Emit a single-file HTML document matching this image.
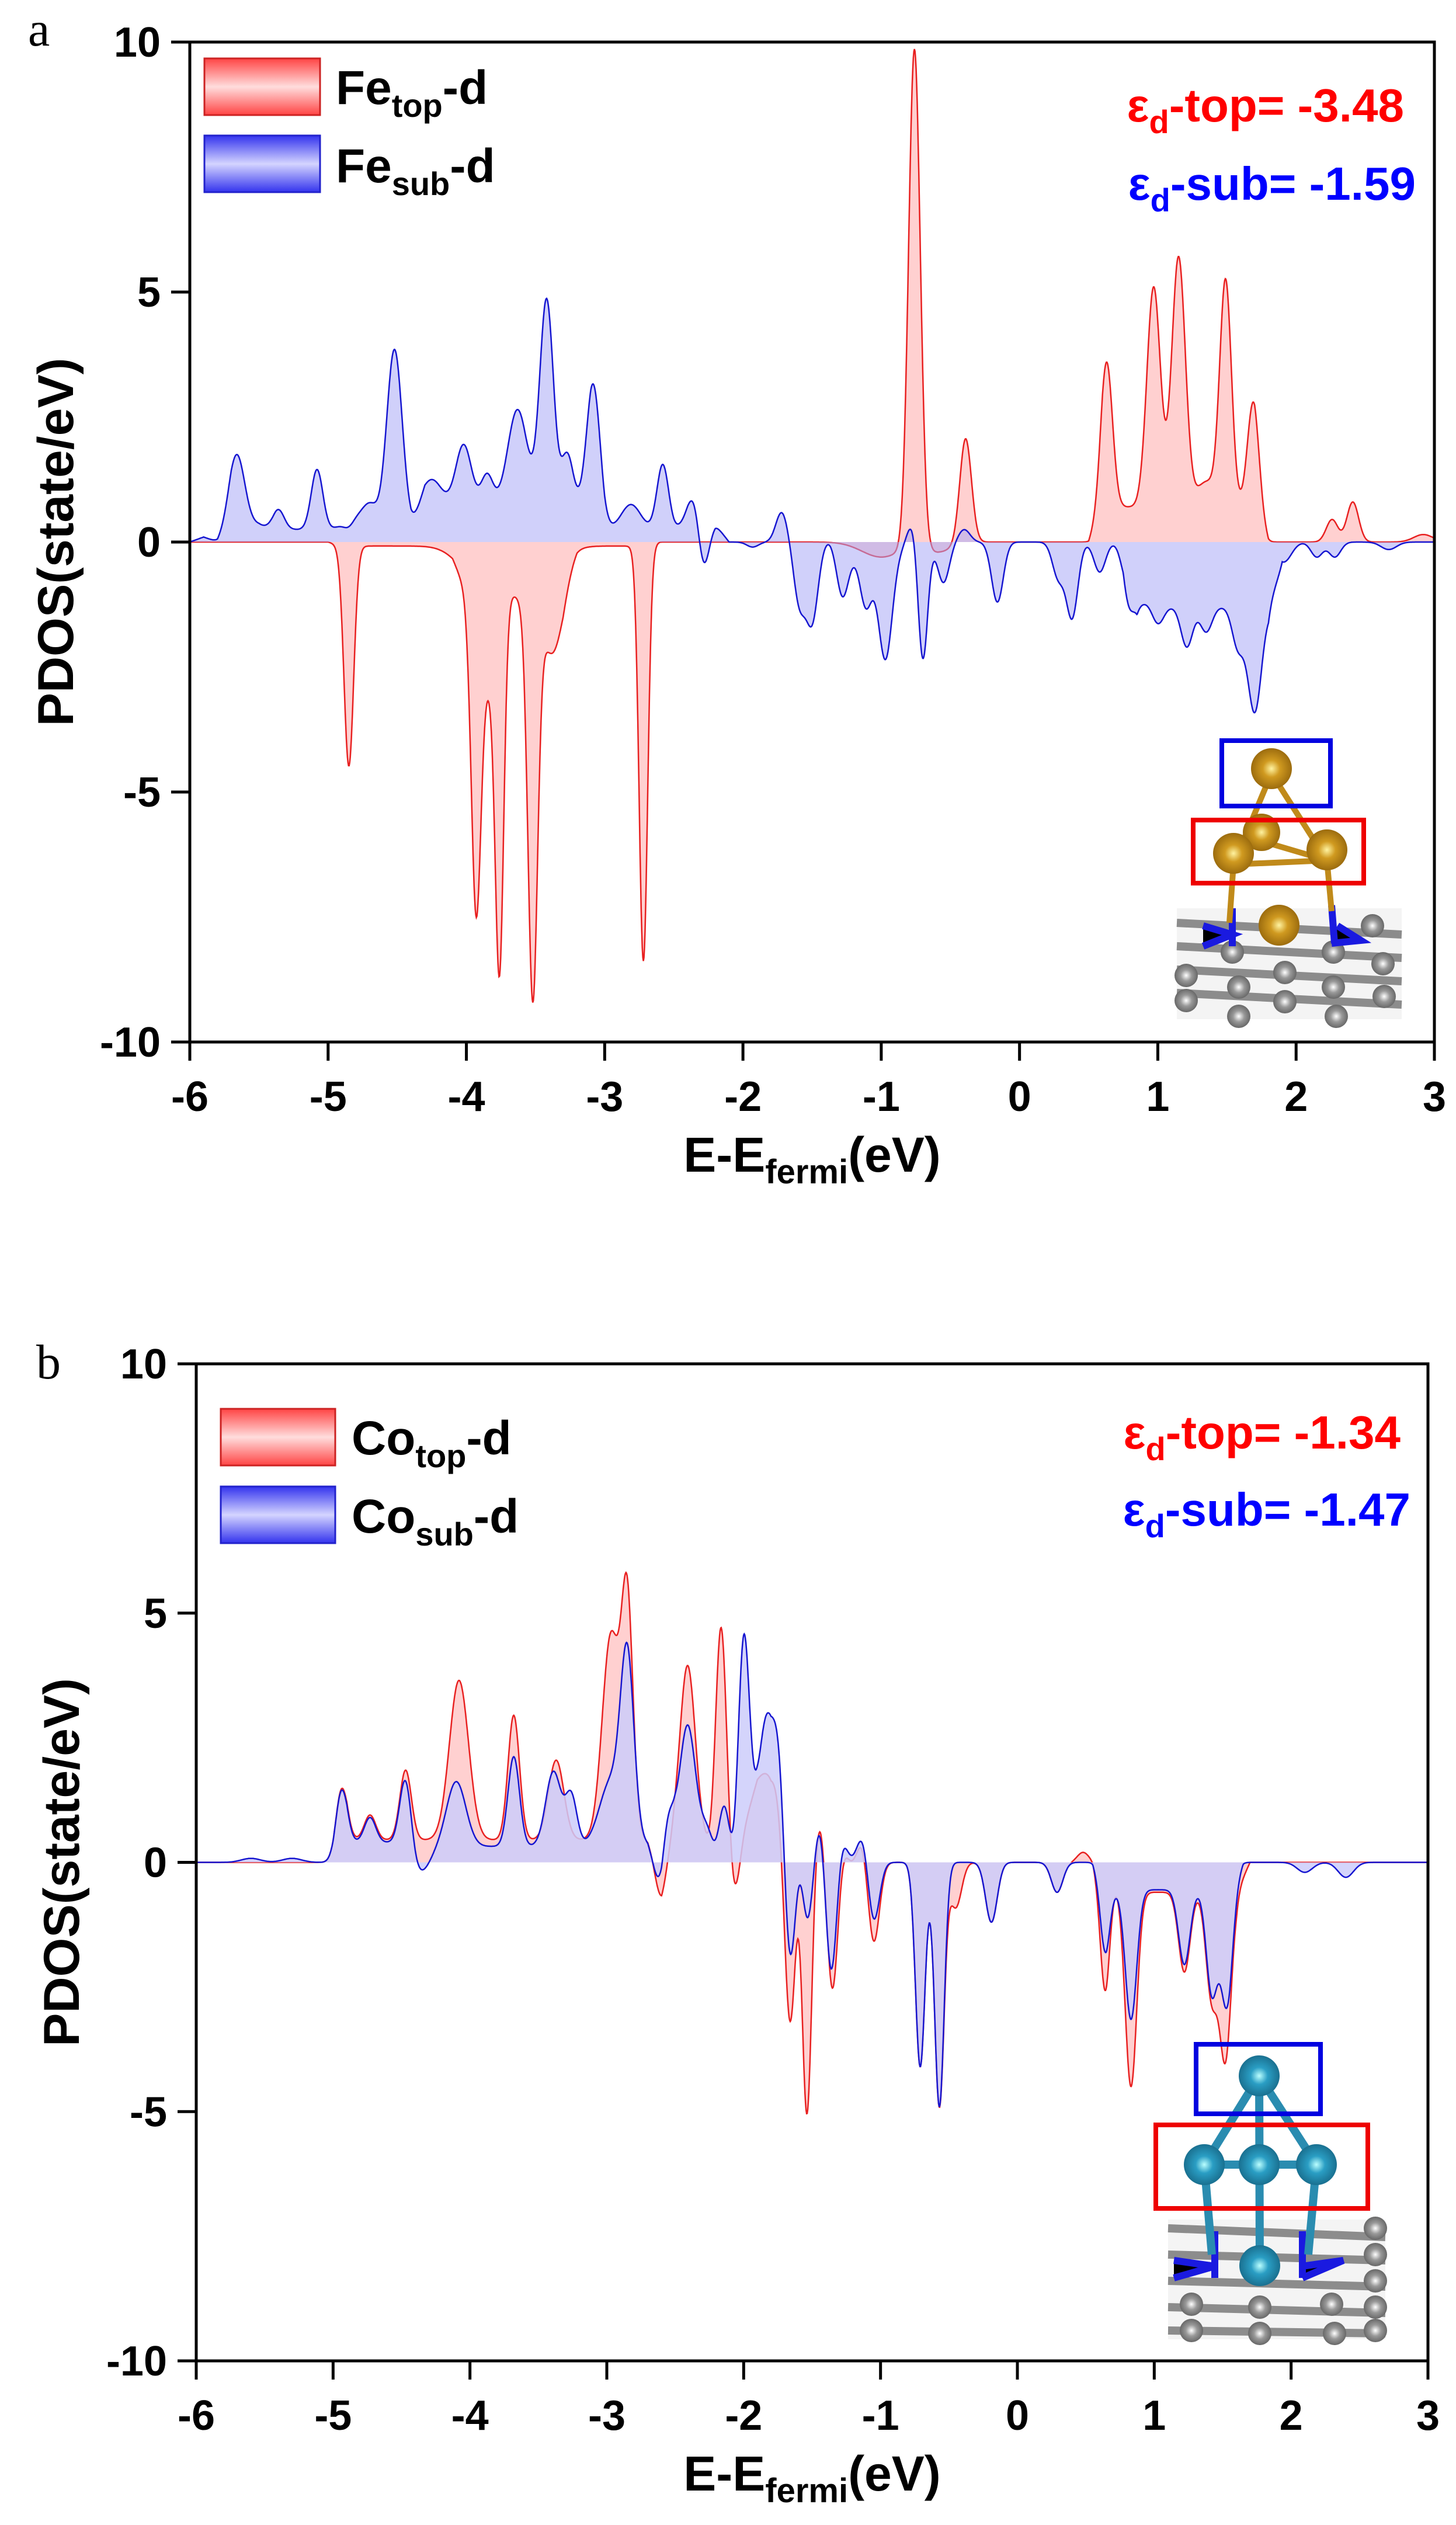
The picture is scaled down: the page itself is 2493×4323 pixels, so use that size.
<!DOCTYPE html>
<html><head><meta charset="utf-8">
<style>
html,body{margin:0;padding:0;background:#fff;}
svg{display:block;}
text{font-family:"Liberation Sans",Arial,sans-serif;font-weight:bold;}
</style></head>
<body>
<svg id="s" width="2493" height="4323" viewBox="0 0 2493 4323" xmlns="http://www.w3.org/2000/svg">
<defs>
<linearGradient id="lr" x1="0" y1="0" x2="0" y2="1"><stop offset="0" stop-color="#f44"/><stop offset="0.5" stop-color="#fdd"/><stop offset="1" stop-color="#f44"/></linearGradient>
<linearGradient id="lb" x1="0" y1="0" x2="0" y2="1"><stop offset="0" stop-color="#33e"/><stop offset="0.5" stop-color="#d4d4ff"/><stop offset="1" stop-color="#33e"/></linearGradient>
<radialGradient id="gold" cx="0.5" cy="0.5" r="0.6"><stop offset="0" stop-color="#fff3a0"/><stop offset="0.35" stop-color="#d09a20"/><stop offset="1" stop-color="#8a5c08"/></radialGradient>
<radialGradient id="cyan" cx="0.5" cy="0.5" r="0.6"><stop offset="0" stop-color="#bff"/><stop offset="0.35" stop-color="#2a9ec4"/><stop offset="1" stop-color="#14607e"/></radialGradient>
<radialGradient id="gray" cx="0.5" cy="0.5" r="0.6"><stop offset="0" stop-color="#fff"/><stop offset="0.4" stop-color="#999"/><stop offset="1" stop-color="#555"/></radialGradient>
</defs>
<g id="plots"></g>

<text x="48" y="78" style="font-family:'Liberation Serif',serif;font-weight:normal" font-size="84">a</text>
<rect x="350" y="100" width="198" height="97" fill="url(#lr)" stroke="#c22" stroke-width="3"/>
<rect x="350" y="232" width="198" height="97" fill="url(#lb)" stroke="#22c" stroke-width="3"/>
<text x="575" y="178" font-size="82">Fe<tspan font-size="56" dy="22">top</tspan><tspan dy="-22">-d</tspan></text>
<text x="575" y="312" font-size="82">Fe<tspan font-size="56" dy="22">sub</tspan><tspan dy="-22">-d</tspan></text>
<text x="2404" y="208" font-size="80" fill="#f00" text-anchor="end">ε<tspan font-size="56" dy="20">d</tspan><tspan dy="-20">-top= -3.48</tspan></text>
<text x="2424" y="342" font-size="80" fill="#00f" text-anchor="end">ε<tspan font-size="56" dy="20">d</tspan><tspan dy="-20">-sub= -1.59</tspan></text>

<text x="62" y="2360" style="font-family:'Liberation Serif',serif;font-weight:normal" font-size="84">b</text>
<rect x="378" y="2412" width="196" height="97" fill="url(#lr)" stroke="#c22" stroke-width="3"/>
<rect x="378" y="2545" width="196" height="97" fill="url(#lb)" stroke="#22c" stroke-width="3"/>
<text x="602" y="2490" font-size="82">Co<tspan font-size="56" dy="22">top</tspan><tspan dy="-22">-d</tspan></text>
<text x="602" y="2624" font-size="82">Co<tspan font-size="56" dy="22">sub</tspan><tspan dy="-22">-d</tspan></text>
<text x="2398" y="2480" font-size="80" fill="#f00" text-anchor="end">ε<tspan font-size="56" dy="20">d</tspan><tspan dy="-20">-top= -1.34</tspan></text>
<text x="2415" y="2612" font-size="80" fill="#00f" text-anchor="end">ε<tspan font-size="56" dy="20">d</tspan><tspan dy="-20">-sub= -1.47</tspan></text>

<g>
  <rect x="2015" y="1555" width="385" height="190" fill="#f4f4f4"/>
  <g stroke="#8c8c8c" stroke-width="14" fill="none">
    <path d="M2015 1580 L2400 1600"/><path d="M2015 1620 L2400 1640"/><path d="M2015 1660 L2400 1680"/><path d="M2015 1700 L2400 1720"/>
  </g>
  <g fill="url(#gray)">
    <circle cx="2031" cy="1670" r="20"/><circle cx="2031" cy="1713" r="20"/><circle cx="2110" cy="1630" r="20"/><circle cx="2121" cy="1690" r="20"/><circle cx="2121" cy="1740" r="20"/>
    <circle cx="2200" cy="1665" r="20"/><circle cx="2200" cy="1715" r="20"/><circle cx="2283" cy="1630" r="20"/><circle cx="2283" cy="1690" r="20"/><circle cx="2288" cy="1740" r="20"/>
    <circle cx="2350" cy="1585" r="20"/><circle cx="2368" cy="1650" r="20"/><circle cx="2370" cy="1706" r="20"/>
  </g>
  <g stroke="#1a1ae0" stroke-width="12"><path d="M2060 1585 L2110 1600 L2060 1620 M2110 1555 L2110 1620"/><path d="M2290 1585 L2330 1610 L2280 1615 M2280 1550 L2285 1615"/></g>
  <g stroke="#c08a1a" stroke-width="10">
    <path d="M2177 1324 L2112 1480 M2177 1324 L2272 1473 M2112 1480 L2272 1473 M2160 1440 L2272 1473 M2112 1480 L2105 1580 M2272 1473 L2280 1560"/>
  </g>
  <circle cx="2177" cy="1316" r="35" fill="url(#gold)"/>
  <circle cx="2160" cy="1425" r="32" fill="url(#gold)"/>
  <circle cx="2112" cy="1461" r="35" fill="url(#gold)"/>
  <circle cx="2272" cy="1455" r="35" fill="url(#gold)"/>
  <circle cx="2190" cy="1584" r="35" fill="url(#gold)"/>
  <rect x="2092" y="1268" width="186" height="112" fill="none" stroke="#0000e0" stroke-width="8"/>
  <rect x="2043" y="1404" width="292" height="108" fill="none" stroke="#e00" stroke-width="8"/>
</g>

<g>
  <rect x="2000" y="3800" width="372" height="205" fill="#f4f4f4"/>
  <g stroke="#8c8c8c" stroke-width="14" fill="none">
    <path d="M2000 3815 L2372 3830"/><path d="M2000 3860 L2372 3870"/><path d="M2000 3905 L2372 3915"/><path d="M2000 3950 L2372 3960"/><path d="M2000 3990 L2372 3995"/>
  </g>
  <g fill="url(#gray)">
    <circle cx="2040" cy="3945" r="20"/><circle cx="2040" cy="3990" r="20"/><circle cx="2157" cy="3950" r="20"/><circle cx="2157" cy="3995" r="20"/><circle cx="2280" cy="3945" r="20"/><circle cx="2285" cy="3995" r="20"/>
    <circle cx="2355" cy="3815" r="20"/><circle cx="2355" cy="3860" r="20"/><circle cx="2355" cy="3905" r="20"/><circle cx="2355" cy="3950" r="20"/><circle cx="2355" cy="3990" r="20"/>
  </g>
  <g stroke="#1a1ae0" stroke-width="12"><path d="M2010 3870 L2080 3880 L2010 3900 M2080 3820 L2080 3900"/><path d="M2230 3880 L2300 3870 L2230 3900 M2230 3820 L2230 3900"/></g>
  <g stroke="#2a8cb0" stroke-width="14">
    <path d="M2156 3554 L2062 3706 M2156 3554 L2254 3706 M2156 3554 L2157 3879 M2062 3706 L2254 3706 M2062 3706 L2075 3860 M2254 3706 L2240 3860"/>
  </g>
  <circle cx="2156" cy="3554" r="35" fill="url(#cyan)"/>
  <circle cx="2062" cy="3706" r="35" fill="url(#cyan)"/>
  <circle cx="2156" cy="3706" r="35" fill="url(#cyan)"/>
  <circle cx="2254" cy="3706" r="35" fill="url(#cyan)"/>
  <circle cx="2157" cy="3879" r="35" fill="url(#cyan)"/>
  <rect x="2048" y="3500" width="213" height="119" fill="none" stroke="#0000e0" stroke-width="8"/>
  <rect x="1979" y="3638" width="363" height="143" fill="none" stroke="#e00" stroke-width="8"/>
</g>
<g id="axes"></g>
</svg>
<script>
(function(){
var NS="http://www.w3.org/2000/svg";
var plots=document.getElementById('plots'), axes=document.getElementById('axes');
function el(tag,attrs,parent,txt){var e=document.createElementNS(NS,tag);for(var k in attrs)e.setAttribute(k,attrs[k]);if(txt!==undefined)e.textContent=txt;(parent||plots).appendChild(e);return e;}
function series(peaks,base){
  return function(E){var v=0;for(var i=0;i<peaks.length;i++){var p=peaks[i],s=(p[2]||0.035)*1.4,d=(E-p[0])/s;v+=p[1]*Math.exp(-0.5*d*d);}
   if(base){for(var j=0;j<base.length;j++){var b=base[j];if(E>b[0]&&E<b[1]){var t=Math.min(1,(E-b[0])/0.1,(b[1]-E)/0.1);v+=b[2]*t;}}}
   return v;};
}
function drawPlot(P){
  var L=P.L,R=P.R,T=P.T,B=P.B;var sx=(R-L)/9, sy=(B-T)/20, y0=T+10*sy;
  function X(E){return L+(E+6)*sx;} function Y(v){return y0-v*sy;}
  P.curves.forEach(function(c){
    var f=c.f,d='M'+X(-6).toFixed(1)+' '+y0.toFixed(1),ln='';
    for(var E=-6;E<=3.0001;E+=0.004){var v=f(E);if(v>10.2)v=10.2;if(v<-10)v=-10;var px=X(E).toFixed(1),py=Y(v).toFixed(1);d+=' L'+px+' '+py;ln+=(ln?' L':'M')+px+' '+py;}
    d+=' L'+X(3).toFixed(1)+' '+y0.toFixed(1)+'Z';
    el('path',{d:d,fill:c.fill,stroke:'none'});
    el('path',{d:ln,fill:'none',stroke:c.stroke,'stroke-width':2.5});
  });
  el('rect',{x:L,y:T,width:R-L,height:B-T,fill:'none',stroke:'#000','stroke-width':5},axes);
  for(var i=0;i<=9;i++){var x=X(-6+i);el('line',{x1:x,y1:B,x2:x,y2:B+32,stroke:'#000','stroke-width':5},axes);
    el('text',{x:x,y:B+118,'font-size':72,'text-anchor':'middle'},axes,String(-6+i));}
  [10,5,0,-5,-10].forEach(function(v){var y=Y(v);el('line',{x1:L-32,y1:y,x2:L,y2:y,stroke:'#000','stroke-width':5},axes);
    el('text',{x:L-50,y:y+25,'font-size':72,'text-anchor':'end'},axes,String(v));});
  var t=el('text',{x:(L+R)/2,y:B+222,'font-size':84,'text-anchor':'middle'},axes);
  t.innerHTML='E-E<tspan font-size="58" dy="20">fermi</tspan><tspan dy="-20">(eV)</tspan>';
  el('text',{x:0,y:0,'font-size':86,'text-anchor':'middle',transform:'translate('+(P.yl)+','+((T+B)/2)+') rotate(-90)'},axes,'PDOS(state/eV)');
}
var RF='rgba(255,150,150,0.45)', BF='rgba(170,170,245,0.55)';
var aRed=series([[-0.76,10,0.03],[-0.39,2.1,0.03],[0.63,2.9,0.03],[0.97,4.4,0.035],[1.15,5.0,0.035],[1.49,4.5,0.03],[1.69,2.1,0.03],[1.35,0.5,0.05],[2.26,0.45,0.03],[2.41,0.8,0.03],[2.92,0.15,0.05],
 [-4.85,-4.4,0.025],[-3.93,-6.0,0.025],[-3.83,-1.6,0.04],[-3.76,-6.9,0.022],[-3.52,-7.8,0.025],[-3.37,-1.2,0.05],[-2.72,-8.3,0.022],[-3.9,-0.7,0.1],[-3.5,-0.8,0.1],[-1.0,-0.3,0.1],[-0.6,-0.2,0.08]],
 [[0.5,1.8,0.7],[-4.1,-3.2,-0.4],[-5.0,-2.6,-0.08]]);
var aBlue=series([[-5.66,1.4,0.04],[-5.36,0.4,0.03],[-5.08,1.2,0.03],[-4.84,0.4,0.04],[-4.7,0.5,0.04],[-4.52,3.6,0.04],[-4.25,0.5,0.05],[-4.02,1.2,0.04],[-3.85,0.6,0.03],[-3.63,1.9,0.05],[-3.42,4.1,0.035],[-3.27,1.0,0.03],[-3.08,2.5,0.035],[-2.81,0.5,0.05],[-2.58,1.3,0.03],[-2.33,0.9,0.04],[-1.93,0.4,0.03],[-1.72,0.6,0.03],[-1.37,0.15,0.03],[-0.77,0.5,0.03],[-0.40,0.25,0.03],[0.94,0.1,0.05],
 [-4.85,-0.35,0.03],[-2.29,-1.4,0.03],[-1.93,-0.5,0.03],[-1.59,-1.2,0.03],[-1.5,-1.5,0.03],[-1.28,-0.9,0.03],[-1.11,-1.0,0.03],[-0.97,-2.1,0.035],[-0.70,-2.4,0.025],[-0.55,-0.8,0.03],[-0.16,-1.2,0.03],[0.28,-0.7,0.03],[0.38,-1.5,0.03],[0.58,-0.6,0.03],[0.78,-0.8,0.03],[1.0,-0.4,0.03],[1.21,-0.8,0.03],[1.35,-0.5,0.03],[1.58,-0.8,0.03],[1.70,-2.1,0.035],[1.91,-0.4,0.04],[2.15,-0.3,0.03],[2.28,-0.3,0.03],[2.67,-0.15,0.04],[-1.1,-0.3,0.15]],
 [[-5.8,-2.1,0.35],[-4.4,-3.0,0.5],[0.75,1.9,-1.3],[-5.5,-2.4,-0.1],[-6,-5.8,0.1]]);
drawPlot({L:325,R:2456,T:72,B:1784,yl:125,curves:[{f:aRed,fill:RF,stroke:'#e82020'},{f:aBlue,fill:BF,stroke:'#1515d0'}]});
var bRed=series([[-4.94,1.2,0.03],[-4.73,0.5,0.03],[-4.47,1.4,0.03],[-4.08,3.2,0.05],[-3.68,2.5,0.03],[-3.37,1.6,0.04],[-2.97,4.1,0.045],[-2.85,4.6,0.03],[-2.41,3.5,0.04],[-2.17,5.3,0.03],[-1.8,1.8,0.08],[-1.59,1.0,0.03],[-1.44,1.1,0.03],[-1.29,0.6,0.03],[-1.13,0.6,0.03],
 [-2.61,-0.7,0.03],[-2.2,-1.3,0.03],[-2.07,-1.2,0.03],[-1.66,-4.1,0.03],[-1.54,-5.5,0.025],[-1.35,-2.7,0.03],[-1.05,-1.6,0.03],[-0.71,-4.1,0.025],[-0.57,-4.9,0.025],[-0.45,-0.9,0.03],[-0.19,-1.2,0.03],[0.29,-0.6,0.03],[0.64,-2.1,0.025],[0.83,-3.9,0.03],[1.22,-1.6,0.03],[1.42,-2.1,0.03],[1.52,-3.3,0.03],[0.48,0.2,0.03],[0.7,0.2,0.03]],
 [[-5.0,-2.6,0.45],[-2.6,-1.0,0.45],[-1.9,-1.0,-0.6],[0.55,1.7,-0.6]]);
var bBlue=series([[-4.94,1.2,0.03],[-4.73,0.5,0.03],[-4.47,1.4,0.03],[-4.1,1.3,0.05],[-3.68,1.8,0.03],[-3.39,1.5,0.04],[-3.26,1.0,0.03],[-2.97,1.3,0.06],[-2.85,3.6,0.035],[-2.56,0.9,0.03],[-2.41,2.3,0.04],[-2.17,1.6,0.05],[-2.0,4.3,0.03],[-1.83,2.7,0.04],[-1.74,1.8,0.03],[-1.59,0.9,0.03],[-1.44,1.0,0.03],[-1.29,0.6,0.03],[-1.13,0.6,0.03],[1.39,0.15,0.03],[-5.6,0.08,0.05],[-5.3,0.08,0.05],
 [-4.36,-0.5,0.05],[-2.61,-0.7,0.03],[-2.2,-1.4,0.03],[-2.07,-1.2,0.03],[-1.66,-2.3,0.03],[-1.54,-1.5,0.03],[-1.36,-2.4,0.03],[-1.05,-1.2,0.03],[-0.71,-4.1,0.025],[-0.57,-4.9,0.025],[-0.19,-1.2,0.03],[0.29,-0.6,0.03],[0.64,-1.3,0.025],[0.83,-2.6,0.03],[1.22,-1.5,0.03],[1.42,-2.2,0.03],[1.53,-2.3,0.03],[2.1,-0.2,0.04],[2.4,-0.3,0.04]],
 [[-5.0,-2.6,0.4],[-2.6,-1.0,0.45],[-1.9,-1.0,-0.5],[0.55,1.65,-0.55],[-4.5,-2.7,-0.08]]);
drawPlot({L:336,R:2445,T:2335,B:4042,yl:135,curves:[{f:bRed,fill:RF,stroke:'#e82020'},{f:bBlue,fill:'rgba(205,205,250,0.85)',stroke:'#1515d0'}]});
})();
</script>
</body></html>
